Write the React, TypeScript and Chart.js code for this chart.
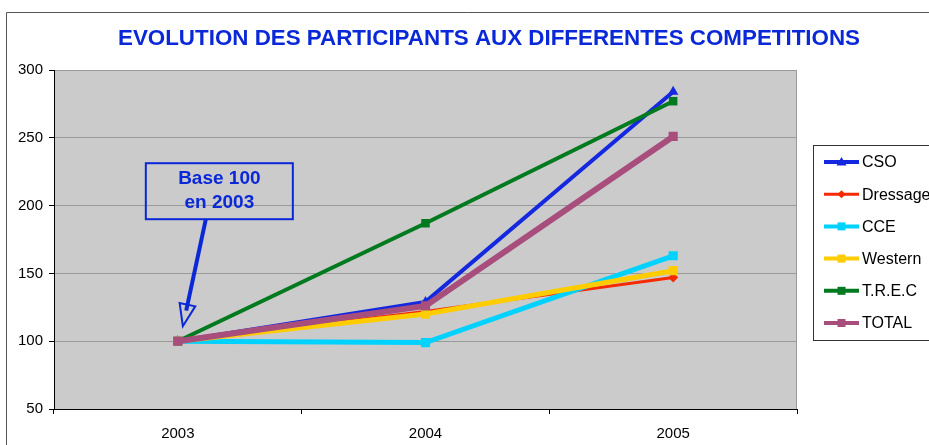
import React, { useEffect, useRef } from "react";
import { Chart, registerables } from "chart.js";

Chart.register(...registerables);

const categories = ["2003", "2004", "2005"];
const seriesNames = ["CSO", "Dressage", "CCE", "Western", "T.R.E.C", "TOTAL"];
const csoValues = [100, 129, 284];
const dressageValues = [100, 122, 147];
const cceValues = [100, 99, 163];
const westernValues = [100, 120, 152];
const trecValues = [100, 187, 277];
const totalValues = [100, 126, 251];
const yMin = 50;
const yMax = 300;
const yStep = 50;
const titleText = "EVOLUTION DES PARTICIPANTS AUX DIFFERENTES COMPETITIONS";
const noteLines = ["Base 100", "en 2003"];

const seriesValues = [csoValues, dressageValues, cceValues, westernValues, trecValues, totalValues];
const seriesColors = ["#1428e0", "#f52a00", "#00d2ff", "#ffcc00", "#007a1e", "#a84e7c"];
const seriesWidths = [4, 3, 5, 5, 4, 6];
const seriesMarkers = ["triangle", "rectRot", "rect", "rect", "rect", "rect"];
const seriesRadius = [6, 5, 6.5, 6.5, 6, 6.5];

const FONT = '"Liberation Sans", Arial, sans-serif';
const BLUE = "#0a28d8";

const decorPlugin = {
  id: "decor",
  beforeDraw(chart: any) {
    const { ctx, chartArea: a } = chart;
    ctx.save();
    ctx.fillStyle = "#ffffff";
    ctx.fillRect(0, 0, chart.width, chart.height);
    ctx.strokeStyle = "#555555";
    ctx.lineWidth = 1;
    ctx.beginPath();
    ctx.moveTo(6.5, chart.height);
    ctx.lineTo(6.5, 12.5);
    ctx.lineTo(chart.width, 12.5);
    ctx.stroke();
    ctx.fillStyle = "#cbcbcb";
    ctx.fillRect(a.left, a.top, a.right - a.left, a.bottom - a.top);
    ctx.strokeStyle = "#9a9a9a";
    ctx.strokeRect(a.left + 0.5, a.top + 0.5, a.right - a.left - 1, a.bottom - a.top);
    ctx.restore();
  },
  afterDraw(chart: any) {
    const { ctx } = chart;
    const xs = chart.scales.x;
    const ys = chart.scales.y;
    ctx.save();
    // title
    ctx.font = `bold 22px ${FONT}`;
    ctx.fillStyle = BLUE;
    ctx.textAlign = "center";
    ctx.textBaseline = "middle";
    const w = ctx.measureText(titleText).width;
    const target = 742;
    ctx.save();
    ctx.translate(489, 39);
    ctx.scale(target / w, 1);
    ctx.fillText(titleText, 0, 0);
    ctx.restore();

    // legend
    const lx = 813.5;
    const ly = 145.5;
    ctx.strokeStyle = "#333333";
    ctx.lineWidth = 1;
    ctx.strokeRect(lx, ly, 200, 195);
    ctx.font = `16px ${FONT}`;
    ctx.textAlign = "left";
    ctx.textBaseline = "middle";
    seriesNames.forEach((name, i) => {
      const yy = 162 + i * 32.2;
      ctx.strokeStyle = seriesColors[i];
      ctx.lineWidth = Math.min(seriesWidths[i], 4);
      ctx.beginPath();
      ctx.moveTo(824, yy);
      ctx.lineTo(859, yy);
      ctx.stroke();
      ctx.fillStyle = seriesColors[i];
      const m = seriesMarkers[i];
      const cx = 841.5;
      ctx.beginPath();
      if (m === "triangle") {
        ctx.moveTo(cx, yy - 5);
        ctx.lineTo(cx + 5, yy + 3.5);
        ctx.lineTo(cx - 5, yy + 3.5);
        ctx.closePath();
      } else if (m === "rectRot") {
        ctx.moveTo(cx, yy - 4);
        ctx.lineTo(cx + 4, yy);
        ctx.lineTo(cx, yy + 4);
        ctx.lineTo(cx - 4, yy);
        ctx.closePath();
      } else {
        ctx.rect(cx - 4, yy - 4, 8, 8);
      }
      ctx.fill();
      ctx.fillStyle = "#000000";
      ctx.fillText(name, 862, yy + 1);
    });

    // annotation box and arrow anchored at the base point
    const px = xs.getPixelForValue(0);
    const py = ys.getPixelForValue(100);
    const bx = px - 32;
    const by = py - 178;
    const bw = 147;
    const bh = 56;
    ctx.strokeStyle = BLUE;
    ctx.lineWidth = 2;
    ctx.strokeRect(bx, by, bw, bh);
    ctx.fillStyle = BLUE;
    ctx.font = `bold 19px ${FONT}`;
    ctx.textAlign = "center";
    ctx.fillText(noteLines[0], bx + bw / 2, by + 16);
    ctx.fillText(noteLines[1], bx + bw / 2, by + 40);

    const sx = px + 28;
    const sy = by + bh;
    const tx = px + 5;
    const ty = py - 15;
    const ang = Math.atan2(ty - sy, tx - sx);
    const headLen = 22;
    const headW = 8;
    const baseX = tx - headLen * Math.cos(ang);
    const baseY = ty - headLen * Math.sin(ang);
    ctx.lineWidth = 4;
    ctx.beginPath();
    ctx.moveTo(sx, sy);
    ctx.lineTo(baseX + 6 * Math.cos(ang), baseY + 6 * Math.sin(ang));
    ctx.stroke();
    const nx = -Math.sin(ang);
    const ny = Math.cos(ang);
    ctx.lineWidth = 2;
    ctx.beginPath();
    ctx.moveTo(tx, ty);
    ctx.lineTo(baseX + nx * headW, baseY + ny * headW);
    ctx.lineTo(baseX - nx * headW, baseY - ny * headW);
    ctx.closePath();
    ctx.stroke();
    ctx.restore();
  },
};

export default function App() {
  const ref = useRef<HTMLCanvasElement | null>(null);
  useEffect(() => {
    if (!ref.current) return;
    const chart = new Chart(ref.current, {
      type: "line",
      data: {
        labels: categories,
        datasets: seriesNames.map((name, i) => ({
          label: name,
          data: seriesValues[i],
          borderColor: seriesColors[i],
          backgroundColor: seriesColors[i],
          borderWidth: seriesWidths[i],
          pointStyle: seriesMarkers[i] as any,
          pointRadius: seriesRadius[i],
          pointBorderWidth: 0,
          tension: 0,
          fill: false,
          order: seriesNames.length - i,
        })),
      },
      options: {
        responsive: false,
        animation: false,
        layout: { padding: { left: 0, top: 70, right: 132, bottom: 0 } },
        plugins: {
          legend: { display: false },
          title: { display: false },
          tooltip: { enabled: false },
        },
        scales: {
          x: {
            offset: true,
            grid: { drawOnChartArea: false, offset: true, tickLength: 5, color: "#000000" },
            border: { color: "#000000", width: 1 },
            ticks: { color: "#000000", font: { family: FONT, size: 15 }, padding: 11, maxRotation: 0 },
            afterFit(scale: any) {
              scale.height = 36;
            },
          },
          y: {
            min: yMin,
            max: yMax,
            ticks: { stepSize: yStep, color: "#000000", font: { family: FONT, size: 15 }, padding: 6 },
            grid: { color: "#9a9a9a", tickColor: "#000000", tickLength: 5 },
            border: { color: "#000000", width: 1 },
            afterFit(scale: any) {
              scale.width = 54;
            },
          },
        },
      },
      plugins: [decorPlugin],
    });
    return () => chart.destroy();
  }, []);
  return (
    <div style={{ position: "absolute", left: 0, top: 0, width: 929, height: 445 }}>
      <canvas ref={ref} width={929} height={445} style={{ width: 929, height: 445 }} />
    </div>
  );
}
